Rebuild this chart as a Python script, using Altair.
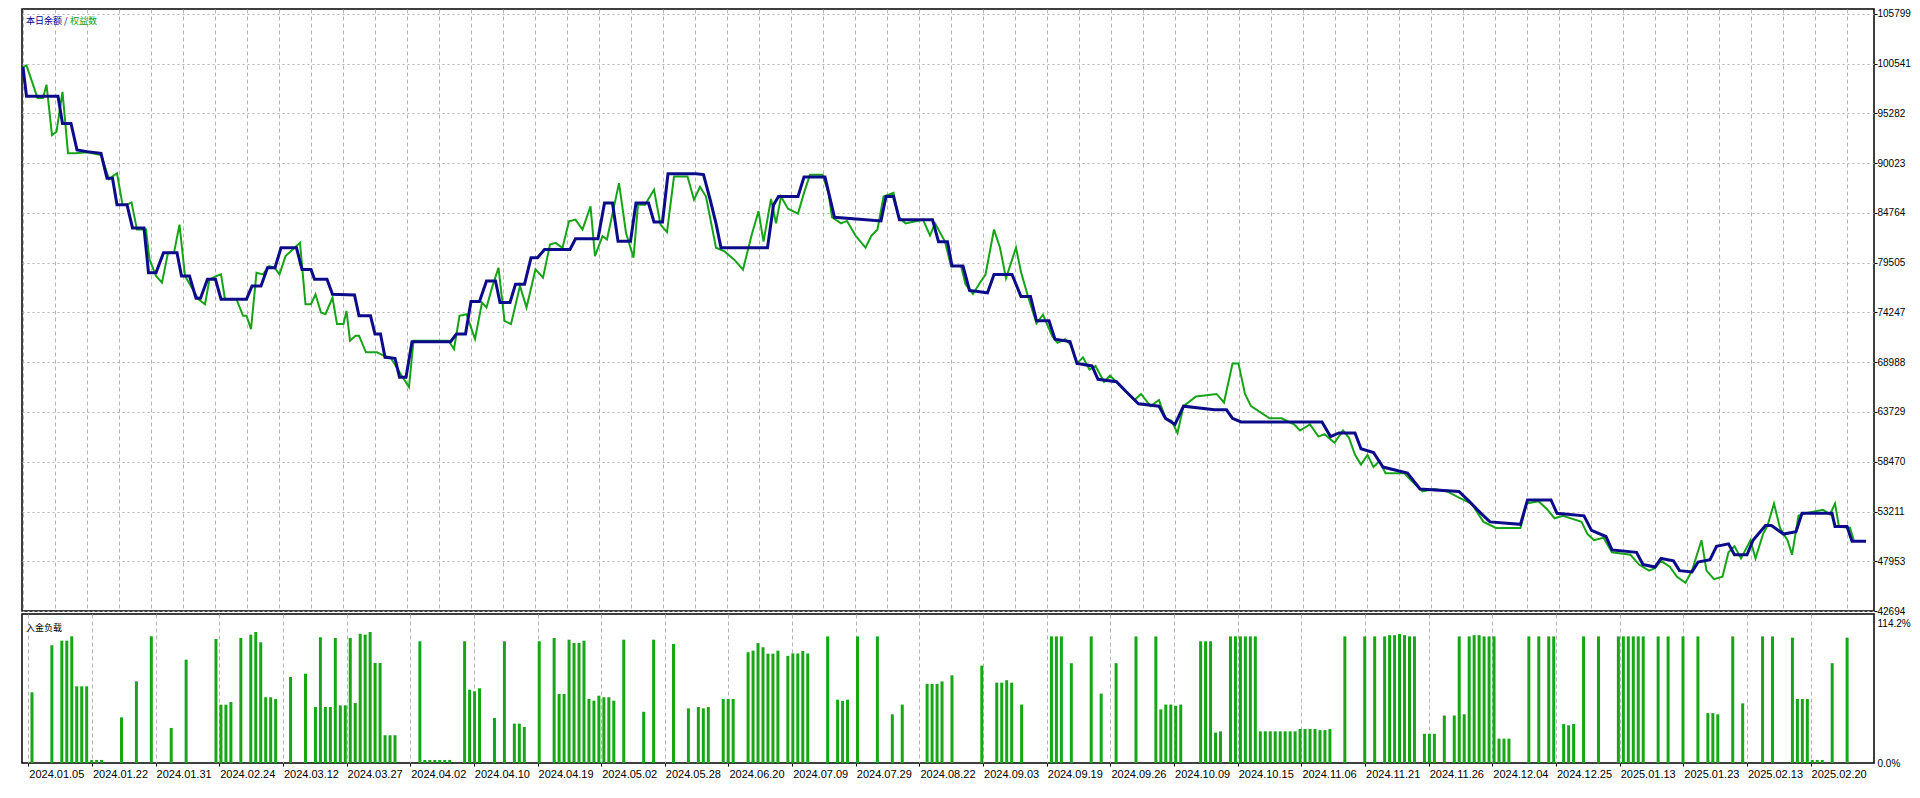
import altair as alt
import pandas as pd

# ---------------- data ----------------
dates = ["2024.01.05", "2024.01.22", "2024.01.31", "2024.02.24", "2024.03.12", "2024.03.27",
         "2024.04.02", "2024.04.10", "2024.04.19", "2024.05.02", "2024.05.28", "2024.06.20",
         "2024.07.09", "2024.07.29", "2024.08.22", "2024.09.03", "2024.09.19", "2024.09.26",
         "2024.10.09", "2024.10.15", "2024.11.06", "2024.11.21", "2024.11.26", "2024.12.04",
         "2024.12.25", "2025.01.13", "2025.01.23", "2025.02.13", "2025.02.20"]
y_labels = [105799, 100541, 95282, 90023, 84764, 79505, 74247, 68988, 63729, 58470, 53211, 47953, 42694]

# balance (blue): trade index, value
bal_k = [-0.8, -0.1, 6.2, 7.1, 8.8, 10.0, 12.0, 14.8, 16.0, 17.1, 18.0, 20.0, 21.1, 23.4, 24.3, 25.8,
         27.3, 30.0, 30.9, 32.5, 33.8, 34.7, 36.1, 37.7, 38.8, 43.9, 45.0, 46.8, 48.1, 49.6, 50.8,
         53.9, 55.0, 56.8, 57.5, 60.0, 61.1, 65.5, 66.4, 68.7, 69.6, 70.7, 71.6, 73.6, 74.5, 75.8,
         77.0, 84.7, 85.9, 87.7, 88.8, 90.5, 91.9, 93.7, 94.6, 96.6, 97.7, 99.5, 100.8, 102.1, 103.5,
         108.6, 109.7, 114.2, 115.5, 117.1, 118.2, 120.7, 121.8, 124.3, 125.4, 127.1, 128.2, 133.8,
         135.3, 136.6, 137.8, 138.8, 148.1, 149.3, 150.3, 154.2, 155.4, 159.6, 161.5, 170.8, 171.8,
         173.3, 174.5, 181.1, 182.3, 184.1, 185.0, 187.2, 188.5, 192.1, 193.4, 197.0, 198.8, 200.7,
         201.9, 204.4, 205.6, 208.6, 210.0, 213.0, 214.2, 217.9, 219.8, 222.3, 226.4, 227.7, 229.6,
         231.3, 237.5, 239.9, 241.1, 242.8, 259.0, 260.7, 262.4, 265.6, 266.8, 269.3, 271.2, 276.1,
         278.6, 286.4, 288.4, 290.8, 292.6, 298.7, 300.1, 304.8, 306.0, 311.4, 312.9, 315.8, 317.0,
         321.9, 323.2, 325.6, 326.8, 329.3, 330.5, 333.0, 334.2, 336.6, 337.9, 340.3, 341.5, 344.0,
         345.2, 347.7, 348.9, 351.3, 353.8, 355.0, 361.0, 361.6, 364.0, 365.0, 367.8]
bal_v = [100190, 97105, 97105, 94230, 94230, 91426, 91250, 91075, 88446, 88446, 85640, 85640, 83186,
         83186, 78454, 78454, 80557, 80557, 78103, 78103, 75754, 75754, 77752, 77752, 75649, 75649,
         77050, 77050, 78979, 78979, 81082, 81082, 78804, 78804, 77752, 77752, 76174, 76104, 73895,
         73895, 71967, 71967, 69513, 69408, 67410, 67410, 71161, 71161, 71967, 71967, 75403, 75403,
         77577, 77577, 75298, 75298, 77226, 77226, 80031, 80031, 80908, 80908, 82030, 82030, 85816,
         85816, 81784, 81784, 85816, 85816, 83818, 83818, 88901, 88901,
         88820, 86244, 83668, 81092, 81092, 85600, 86502, 86502, 88562, 88562, 84312, 83926, 86502,
         86502, 84054, 84054, 81736, 81736, 79160, 79160, 76584, 76326, 78258, 78258, 75940, 75940,
         73364, 73364, 71432, 71174, 68856, 68598, 67182, 66924, 65894, 64606, 64348, 63060, 62416,
         64348, 63962, 63962, 63060, 62674, 62674, 61128, 61514, 61514, 59840, 59454, 57908, 57264,
         55590, 55332, 54302, 53014, 52112, 51854, 54430, 54430, 53014, 52756, 51210, 50566, 49150,
         48892, 47604, 47346, 48248, 47990, 46960, 46830, 47862, 48120, 49536, 49794, 48634, 48634,
         50180, 51726, 51726, 50824, 51082, 53014, 53014, 51633, 51633, 50056, 50056]

# equity (green): trade index, value
eq_k = [-0.8, -0.1, 2.1, 3.2, 3.9, 5.0, 5.9, 7.1, 8.2, 9.7, 12.0, 14.8, 16.4, 18.0, 19.1, 20.0, 20.9,
        22.0, 23.8, 24.5, 25.8, 27.0, 28.2, 29.4, 30.5, 31.6, 34.3, 35.6, 36.5, 37.9, 38.8, 39.6, 41.9,
        43.2, 43.9, 44.8, 45.9, 47.2, 48.4, 49.5, 50.5, 51.7, 53.5, 54.6, 55.7, 56.8, 57.7, 58.8, 59.7,
        61.1, 62.0, 63.3, 63.9, 64.6, 65.7, 66.4, 67.8, 70.0, 71.3, 72.7, 74.9, 76.4, 77.3, 79.4, 84.3,
        85.4, 86.5, 87.9, 89.6, 91.0, 91.9, 93.0, 94.3, 95.5, 96.8, 98.6, 99.9, 101.7, 103.2, 104.6,
        105.7, 107.1, 108.4, 109.7, 111.1, 112.7, 113.6, 115.1, 116.0, 118.4, 119.8, 121.3, 122.2,
        123.6, 125.4, 126.7, 128.0, 129.4, 130.7, 132.1, 133.4, 134.6, 135.8, 137.8, 139.5, 141.5,
        143.2, 144.9, 146.3, 147.3, 148.8, 149.8, 150.8, 152.2, 154.2, 155.4, 156.6, 159.1, 160.3,
        161.0, 162.8, 164.0, 165.7, 167.7, 168.9, 170.1, 171.3, 173.3, 174.3, 175.7, 179.2, 180.6,
        181.6, 183.6, 184.8, 186.8, 187.7, 189.2, 190.4, 191.7, 193.4, 194.6, 195.8, 197.8, 198.8,
        200.2, 201.9, 203.2, 205.1, 206.1, 207.6, 208.8, 210.0, 211.2, 212.5, 213.7, 215.4, 216.6,
        218.4, 219.8, 221.5, 222.8, 224.7, 226.4, 227.7, 228.9, 230.1, 231.3, 233.8, 237.9, 239.4,
        241.1, 242.3, 243.6, 244.8, 248.5, 250.9, 253.4, 254.6, 256.6, 258.3, 259.5, 261.5, 263.2,
        264.4, 265.6, 266.8, 268.1, 269.3, 270.5, 271.7, 275.4, 276.6, 279.1, 281.5, 284.0, 286.4,
        288.9, 291.3, 293.8, 298.7, 299.9, 302.3, 304.1, 305.5, 307.2, 310.9, 312.1, 313.4, 315.3,
        317.0, 320.7, 322.4, 324.4, 325.6, 326.8, 328.6, 330.0, 331.7, 333.0, 334.9, 335.9, 337.4,
        339.1, 340.3, 341.5, 342.8, 344.7, 345.7, 347.2, 348.1, 349.4, 350.6, 352.1, 353.0, 354.3,
        355.5, 359.2, 360.6, 361.6, 362.4, 364.6, 365.4, 367.8]
eq_v = [100190, 100366, 96930, 96930, 98332, 93003, 93354, 97561, 91075, 91075, 91180, 90900, 88340,
        88971, 85640, 85640, 85886, 83011, 83011, 79856, 78103, 77401, 80557, 80557, 83537, 78103,
        75649, 75122, 77752, 78103, 78278, 75649, 75649, 73895, 73895, 72493, 78454, 78278, 79154,
        78979, 78278, 80206, 81082, 81609, 75122, 75122, 76174, 74246, 74070, 75824, 73019, 73019,
        74421, 71266, 71792, 71792, 70039, 70039, 69688, 69513, 67585, 66358, 71266, 71266, 71266,
        70389, 73895, 74070, 71441, 75298, 74772, 76875, 78979, 73369, 73019, 77050, 74772, 78804,
        77928, 81434, 81609, 81082, 83887, 84062, 83011, 85465, 80206, 82310, 81959, 87919, 82660,
        80031, 85640, 85640, 87218, 83537, 82731, 88620, 88620, 88620, 86166, 87532, 86502, 81092,
        80706, 79804, 78774, 82380, 84956, 81736, 86244, 83668, 86502, 85214, 84698, 86888, 88820,
        88820, 86888, 84312, 83668, 83926, 82380, 81092, 82380, 83024, 86502, 86888, 84312, 83668,
        84054, 82380, 83668, 81736, 79160, 79160, 77228, 76198, 77228, 78258, 83024, 81092, 77872,
        81092, 78516, 75940, 73106, 74008, 71690, 71046, 71432, 70788, 68856, 69500, 68212, 68598,
        66924, 67568, 66666, 65894, 64992, 65636, 64348, 64992, 63060, 62802, 61514, 64348, 65378,
        65636, 64734, 68856, 68856, 65636, 64348, 63060, 63060, 62416, 61772, 62416, 61128, 61386,
        60484, 61772, 61000, 59196, 58166, 59196, 57908, 58552, 57264, 57264, 56620, 55332, 55590,
        55332, 54688, 54044, 52112, 51468, 51468, 54044, 54302, 53400, 52498, 52756, 52112, 50824,
        50180, 50438, 48892, 48634, 47604, 46960, 47218, 47990, 47346, 46316, 45672, 46960, 50180,
        46960, 46058, 46316, 48892, 49536, 48248, 50180, 48248, 50824, 51726, 54044, 51468, 50180,
        48634, 52756, 53014, 53400, 52900, 54051, 51600, 51500, 50100, 50100]

# deposit load (bars, %): trade index, value
bar_k = [0, 4, 6, 7, 8, 9, 10, 11, 12, 13, 14, 18, 21, 24, 28, 31, 37, 38, 39, 40, 42, 44, 45, 46, 47,
         48, 49, 52, 55, 57, 58, 59, 60, 61, 62, 63, 64, 65, 66, 67, 68, 69, 70, 71, 72, 73,
         78, 79, 80, 81, 82, 83, 84, 87, 88, 89, 90, 93, 95, 97, 98, 99, 102, 105, 106, 107, 108, 109,
         110, 111, 112, 113, 114, 115, 116, 117, 119, 123, 125, 129, 132, 134, 135, 136, 139, 140, 141,
         144, 145, 146, 147, 148, 149, 150,
         152, 153, 154, 155, 156, 160, 162, 163, 164, 166, 170, 173, 175, 180, 181, 182, 183, 185, 191,
         194, 195, 196, 197, 199, 205, 206, 207, 209, 213, 215, 218, 222, 226, 227, 228, 229, 230, 231,
         235, 236, 237, 238, 239, 241, 242, 243, 244, 245, 246, 247, 248, 249, 250, 251, 252, 253, 254,
         255, 256, 257, 258, 259, 260, 261, 264, 268, 270, 272, 273, 274, 275, 276, 277, 278, 280, 281,
         282, 284, 286, 287, 288, 289, 290, 291, 292, 293, 294, 295, 296, 297, 301, 303, 305, 306, 308,
         309, 310, 312, 315, 319, 320, 321, 322, 323, 324, 327, 329, 332, 335, 337, 338, 339, 342, 344,
         348, 350, 354, 355, 356, 357, 358, 359, 360, 362, 365]
bar_v = [58.1, 96.7, 100.5, 100.5, 104.1, 63.0, 63.0, 63.0, 2.5, 2.5, 2.5, 37.5, 67.1, 104.1, 28.8,
         84.9, 101.9, 47.9, 47.9, 50.1, 102.7, 105.4, 107.6, 99.2, 54.0, 54.0, 52.6, 70.7, 73.4, 46.0,
         103.3, 46.0, 46.0, 102.7, 47.4, 47.4, 102.7, 49.3, 106.2, 105.4, 107.6, 82.2, 82.2, 22.8, 22.8,
         22.8,
         100.0, 2.5, 2.5, 2.5, 2.5, 2.5, 2.5, 100.0, 60.2, 58.9, 61.4, 37.0, 100.0, 32.3, 32.3, 29.6,
         100.0, 102.7, 56.7, 56.7, 101.3, 98.6, 98.6, 100.5, 52.6, 51.2, 55.3, 54.0, 54.0, 51.2, 101.3,
         42.1, 101.3, 97.8, 44.9, 46.0, 44.9, 46.0, 52.6, 52.6, 52.6, 91.0, 92.3, 98.6, 95.1, 89.8,
         89.8, 92.3,
         88.0, 90.0, 90.0, 92.0, 90.0, 104.0, 52.0, 51.0, 52.0, 104.0, 104.0, 40.0, 48.0, 65.0, 65.0,
         65.0, 67.0, 72.0, 80.0, 66.0, 66.0, 68.0, 66.0, 48.0, 104.0, 104.0, 104.0, 82.0, 104.0, 57.0,
         82.0, 104.0, 104.0, 44.0, 48.0, 48.0, 47.0, 48.0, 100.0, 100.0, 100.0, 25.0, 26.0, 104.0,
         104.0, 104.0, 104.0, 104.0, 104.0, 26.0, 26.0, 26.0, 26.0, 26.0, 26.0, 26.0, 26.0, 28.0, 28.0,
         28.0, 28.0, 27.0, 27.0, 28.0, 104.0, 104.0, 104.0, 104.0, 105.0, 105.0, 106.0, 105.0, 104.0,
         104.0, 24.0, 24.0, 24.0, 39.0, 39.0, 104.0, 40.0, 104.0, 105.0, 105.0, 104.0, 104.0, 104.0,
         20.0, 20.0, 20.0, 104.0, 104.0, 104.0, 104.0, 32.0, 31.0, 32.0, 104.0, 104.0, 104.0, 104.0,
         104.0, 104.0, 104.0, 104.0, 104.0, 104.0, 104.0, 104.0, 41.0, 41.0, 40.0, 104.0, 49.0, 104.0,
         104.0, 103.0, 52.6, 52.6, 52.6, 2.5, 2.5, 2.5, 82.0, 103.0]

# ---------------- layout ----------------
FONT = "Liberation Sans Narrow, Liberation Sans, Arial, sans-serif"
X_DOMAIN = [-1.0, 369.4]
grid_vals = [round(-0.74 + 6.4 * j, 3) for j in range(58)]
W, H_TOP, H_BOT = 1852, 602, 149

bal = pd.DataFrame({"k": bal_k, "v": bal_v})
eq = pd.DataFrame({"k": eq_k, "v": eq_v})
bars = pd.DataFrame({"k": bar_k, "v": bar_v})
labs = pd.DataFrame({"k": [grid_vals[2 * i] for i in range(len(dates))], "t": dates})

xs = alt.Scale(domain=X_DOMAIN, nice=False, zero=False)
x_top = alt.X("k:Q", scale=xs,
              axis=alt.Axis(values=grid_vals, grid=True, labels=False, ticks=False, domain=False,
                            title=None, gridColor="#b4b4b4", gridDash=[4, 3], gridWidth=1,
                            minExtent=0, maxExtent=0))
y_top = alt.Y("v:Q", scale=alt.Scale(domain=[42694, 106327], nice=False, zero=False),
              axis=alt.Axis(orient="right", values=y_labels, format="d", title=None, grid=True,
                            gridColor="#b4b4b4", gridDash=[2, 3], gridWidth=1, domain=False,
                            tickSize=3, tickColor="#000", labelPadding=0, labelFont=FONT,
                            labelFontSize=10, labelColor="#000", labelAlign="left",
                            labelOverlap=False, labelBound=False, labelFlush=False))

eq_line = alt.Chart(eq).mark_line(color="#17a317", strokeWidth=2, interpolate="linear").encode(
    x=x_top, y=y_top, order="k:Q")
bal_line = alt.Chart(bal).mark_line(color="#0c0c8a", strokeWidth=3, interpolate="linear").encode(
    x=x_top, y=y_top, order="k:Q")
legend_txt = alt.Chart(pd.DataFrame({"t": ["本日余额"]})).mark_text(
    align="left", baseline="middle", font="Noto Sans CJK SC", fontSize=9, color="#00008b"
).encode(x=alt.value(4), y=alt.value(12), text="t:N")
legend_sep = alt.Chart(pd.DataFrame({"t": ["/"]})).mark_text(
    align="left", baseline="middle", font="Noto Sans CJK SC", fontSize=9, color="#00008b"
).encode(x=alt.value(42), y=alt.value(12), text="t:N")
legend_txt2 = alt.Chart(pd.DataFrame({"t": ["权益数"]})).mark_text(
    align="left", baseline="middle", font="Noto Sans CJK SC", fontSize=9, color="#10a010"
).encode(x=alt.value(48), y=alt.value(12), text="t:N")

top = alt.layer(eq_line, bal_line, legend_txt, legend_sep, legend_txt2).properties(
    width=W, height=H_TOP)

x_bot = alt.X("k:Q", scale=xs,
              axis=alt.Axis(values=grid_vals, grid=True, gridColor="#b4b4b4", gridDash=[4, 3],
                            labels=False, tickSize=3, tickColor="#000", domain=False, title=None,
                            minExtent=0, maxExtent=4))
y_bot = alt.Y("v:Q", scale=alt.Scale(domain=[0, 122.4], nice=False, zero=True),
              axis=alt.Axis(orient="right", values=[0, 114.2], title=None, grid=False,
                            labelExpr="format(datum.value, '.1f') + '%'", tickSize=0,
                            labelPadding=3, labelFont=FONT, labelFontSize=10, labelColor="#000",
                            labelAlign="left", domain=False, labelOverlap=False,
                            labelBound=False, labelFlush=False))
bar_chart = alt.Chart(bars).mark_bar(color="#16a616", size=3).encode(x=x_bot, y=y_bot)
date_txt = alt.Chart(labs).mark_text(align="left", baseline="top", font=FONT, fontSize=11,
                                     color="#000", dx=1).encode(
    x=alt.X("k:Q", scale=xs), y=alt.value(H_BOT + 6), text="t:N")
bot_txt = alt.Chart(pd.DataFrame({"t": ["入金负载"]})).mark_text(
    align="left", baseline="middle", font="Noto Sans CJK SC", fontSize=9, color="#000"
).encode(x=alt.value(4), y=alt.value(14), text="t:N")
bottom = alt.layer(bar_chart, date_txt, bot_txt).properties(width=W, height=H_BOT)

chart = alt.vconcat(top, bottom, spacing=3, bounds="flush").properties(
    padding={"left": 8, "top": 0, "right": 0, "bottom": 0},
    background="#ffffff",
).configure_view(stroke="#000000", strokeWidth=1.5)

chart.save("out.html", embed_options={"renderer": "svg", "actions": False})
